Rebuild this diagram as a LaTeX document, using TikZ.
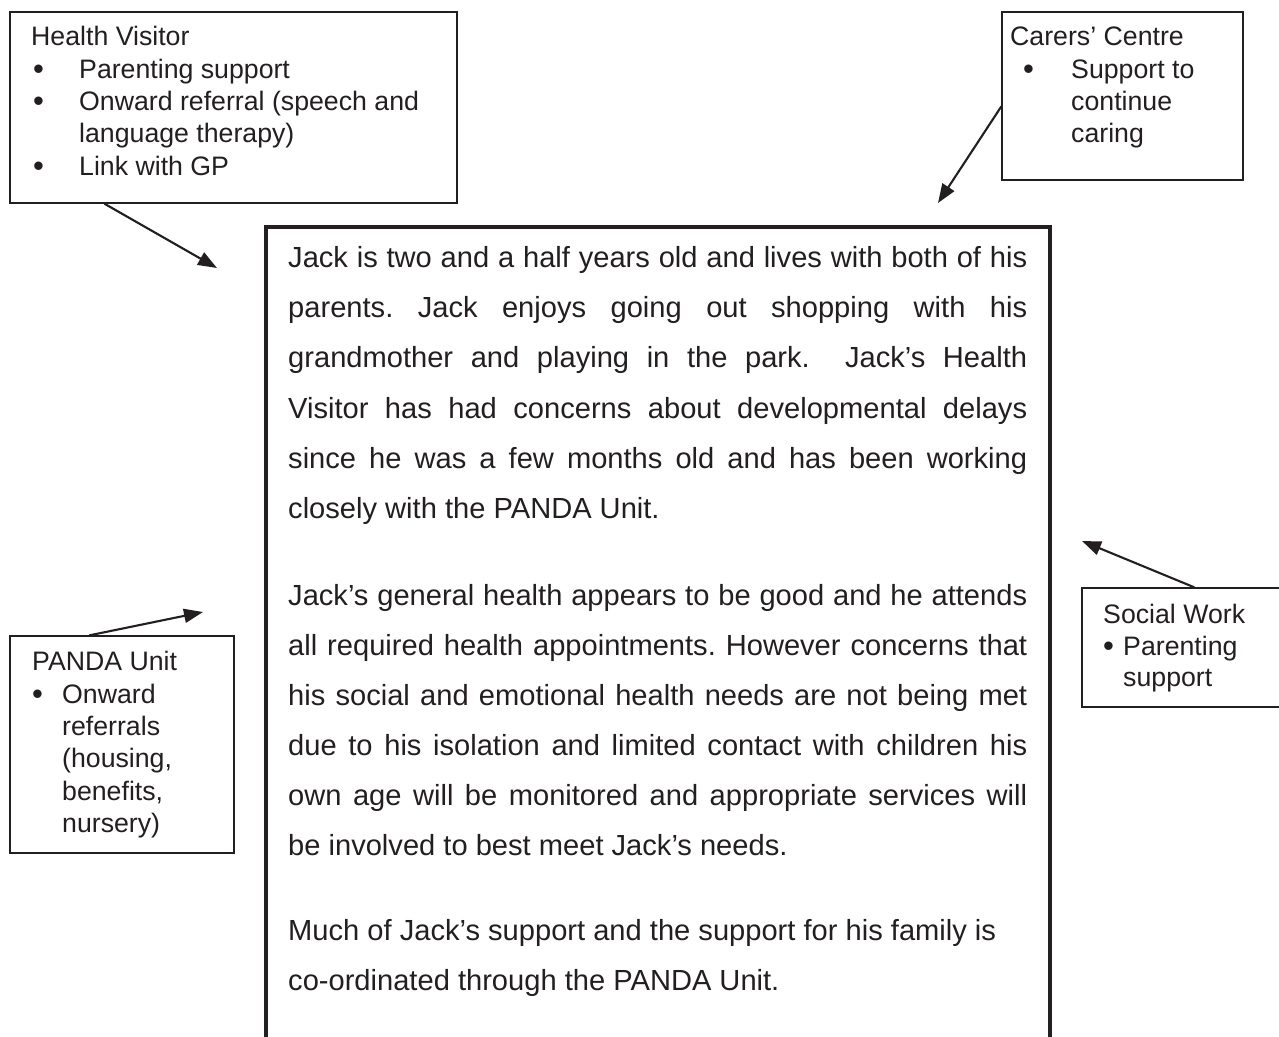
\documentclass[tikz,border=0pt]{standalone}
\usepackage{fontspec}
\setmainfont{Liberation Sans}
\usetikzlibrary{arrows.meta}
\definecolor{ink}{HTML}{231F20}
\frenchspacing
\newcommand\boxfont{\fontsize{26.7pt}{32pt}\selectfont}
\newcommand\bodyfont{\fontsize{29.1pt}{50.3pt}\selectfont}
\newcommand\jline[1]{\makebox[739pt][s]{#1}}
\newcommand\blt{{\fontsize{31pt}{32pt}\selectfont\textbullet}}
\tikzset{
  sbox/.style={draw=ink, line width=1.3pt, rectangle, inner sep=0pt},
  mbox/.style={draw=ink, line width=3.6pt, rectangle, inner sep=0pt},
  stxt/.style={anchor=base west, inner sep=0pt, text=ink, font=\boxfont},
  mtxt/.style={anchor=base west, inner sep=0pt, text=ink, font=\bodyfont},
  arr/.style={draw=ink, line width=2.1pt, -{Triangle[length=19pt,width=14pt]}}
}
\begin{document}
\begin{tikzpicture}[x=1pt,y=-1pt]
\useasboundingbox (0,0) rectangle (1279,1036);
\clip (0,0) rectangle (1279,1036);
\fill[white] (0,0) rectangle (1279,1036);

% boxes
\node[sbox, minimum width=447pt, minimum height=191pt] (hv) at (233.5,107.5) {};
\node[sbox, minimum width=241pt, minimum height=168pt] (cc) at (1122.5,96) {};
\node[sbox, minimum width=224pt, minimum height=217pt] (pu) at (122,744.5) {};
\node[sbox, minimum width=218pt, minimum height=119pt] (sw) at (1191,647.5) {};
\node[mbox, minimum width=784pt, minimum height=833pt] (main) at (658,643.5) {};

% Health Visitor
\node[stxt] (hvt) at (31,45) {Health Visitor};
\node[stxt] (hvb1) at (33,79) {\blt};
\node[stxt] (hvi1) at (79,78) {Parenting support};
\node[stxt] (hvb2) at (33,111) {\blt};
\node[stxt] (hvi2) at (79,110) {Onward referral (speech and};
\node[stxt] (hvi2b) at (79,142) {language therapy)};
\node[stxt] (hvb3) at (33,176) {\blt};
\node[stxt] (hvi3) at (79,175) {Link with GP};

% Carers' Centre
\node[stxt] (cct) at (1010,45) {Carers’ Centre};
\node[stxt] (ccb1) at (1023,79) {\blt};
\node[stxt] (cci1) at (1071,78) {Support to};
\node[stxt] (cci1b) at (1071,110) {continue};
\node[stxt] (cci1c) at (1071,142) {caring};

% PANDA Unit
\node[stxt] (put) at (32,670) {PANDA Unit};
\node[stxt] (pub1) at (32,704) {\blt};
\node[stxt] (pui1) at (62,703) {Onward};
\node[stxt] (pui1b) at (62,735) {referrals};
\node[stxt] (pui1c) at (62,767) {(housing,};
\node[stxt] (pui1d) at (62,800) {benefits,};
\node[stxt] (pui1e) at (62,832) {nursery)};

% Social Work
\node[stxt] (swt) at (1103,623) {Social Work};
\node[stxt] (swb1) at (1103,656) {\blt};
\node[stxt] (swi1) at (1123,655) {Parenting};
\node[stxt] (swi1b) at (1123,686) {support};

% main text
\node[mtxt] (l1) at (288,267) {\jline{Jack is two and a half years old and lives with both of his}};
\node[mtxt] (l2) at (288,317) {\jline{parents. Jack enjoys going out shopping with his}};
\node[mtxt] (l3) at (288,367) {\jline{grandmother and playing in the park.\ \ Jack’s Health}};
\node[mtxt] (l4) at (288,418) {\jline{Visitor has had concerns about developmental delays}};
\node[mtxt] (l5) at (288,468) {\jline{since he was a few months old and has been working}};
\node[mtxt] (l6) at (288,518) {closely with the PANDA Unit.};

\node[mtxt] (l7) at (288,605) {\jline{Jack’s general health appears to be good and he attends}};
\node[mtxt] (l8) at (288,655) {\jline{all required health appointments. However concerns that}};
\node[mtxt] (l9) at (288,705) {\jline{his social and emotional health needs are not being met}};
\node[mtxt] (l10) at (288,755) {\jline{due to his isolation and limited contact with children his}};
\node[mtxt] (l11) at (288,805) {\jline{own age will be monitored and appropriate services will}};
\node[mtxt] (l12) at (288,855) {be involved to best meet Jack’s needs.};

\node[mtxt] (l13) at (288,940) {Much of Jack’s support and the support for his family is};
\node[mtxt] (l14) at (288,990) {co-ordinated through the PANDA Unit.};

% arrow targets
\coordinate (hvtip) at (217,268);
\coordinate (cctip) at (938,203);
\coordinate (putip) at (203,612);
\coordinate (swtip) at (1082,541);

% connectors
\draw[arr] ([xshift=95pt]hv.south west) -- (hvtip);
\draw[arr] ([yshift=-95pt]cc.north west) -- (cctip);
\draw[arr] ([xshift=80pt]pu.north west) -- (putip);
\draw[arr] ([xshift=113pt]sw.north west) -- (swtip);
\end{tikzpicture}
\end{document}
